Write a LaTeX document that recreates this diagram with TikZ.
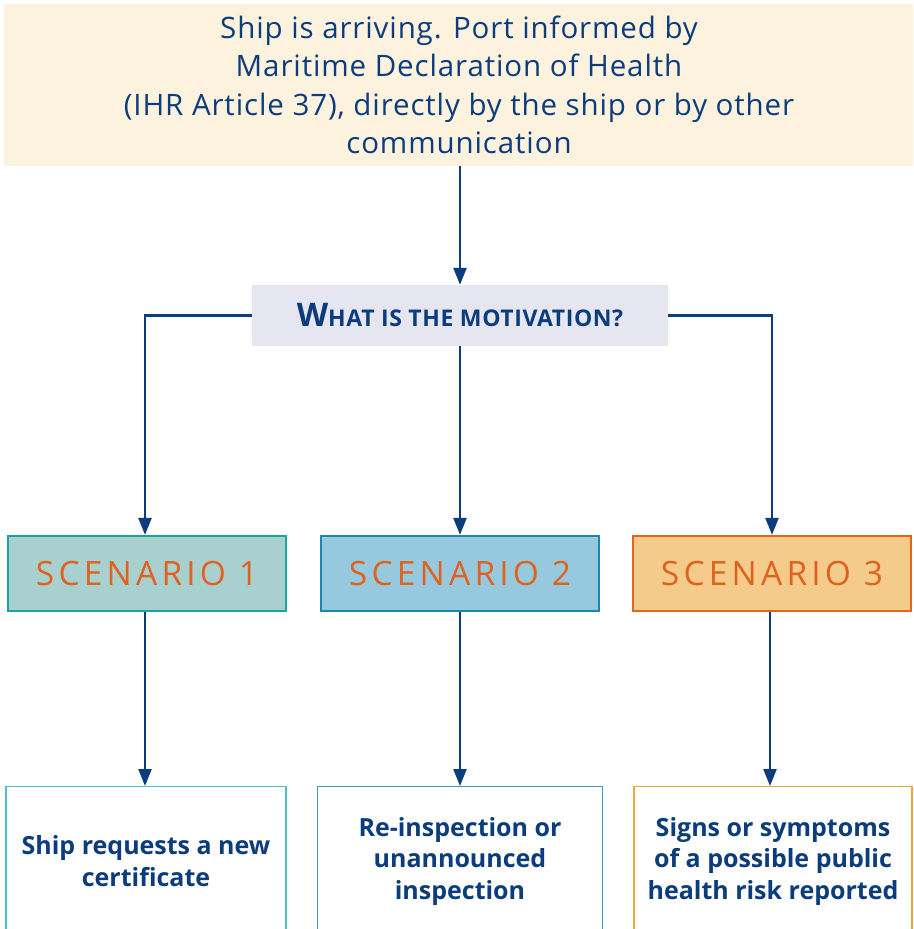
\documentclass[tikz,border=0pt]{standalone}
\usepackage{fontspec}
\setmainfont{Open Sans}
\usetikzlibrary{arrows.meta}
\definecolor{dblue}{HTML}{0B3C7D}
\definecolor{topfill}{HTML}{FCF2DE}
\definecolor{motfill}{HTML}{E6E6F0}
\definecolor{scorange}{HTML}{E0621F}
\definecolor{sAfill}{HTML}{A8D0CE}
\definecolor{sAline}{HTML}{1BA4A2}
\definecolor{sBfill}{HTML}{97C9DE}
\definecolor{sBline}{HTML}{1B86AE}
\definecolor{sCfill}{HTML}{F4CB8B}
\definecolor{sCline}{HTML}{E4661C}
\definecolor{bAline}{HTML}{4FC0C1}
\definecolor{bBline}{HTML}{3C9CC3}
\definecolor{bCline}{HTML}{F0A935}
\tikzset{
  conn/.style={draw=dblue, line width=2.4pt, -{Triangle[length=17pt,width=13pt]}},
  topbox/.style={fill=topfill, inner sep=0pt, minimum width=910pt, minimum height=162pt, align=center, text=dblue, font=\fontsize{29.5}{38.5}\selectfont\addfontfeature{LetterSpace=3}},
  motbox/.style={fill=motfill, inner sep=0pt, minimum width=416pt, minimum height=61pt, text=dblue, font=\bfseries\addfontfeature{LetterSpace=2.5}},
  scbox/.style={line width=2.2pt, inner sep=0pt, minimum width=278pt, minimum height=75pt, text=scorange, font=\fontsize{33.5}{36}\selectfont\addfontfeature{LetterSpace=12.5}},
  outbox/.style={fill=white, line width=1.3pt, inner sep=0pt, minimum width=280pt, minimum height=200pt},
  outtext/.style={text=dblue, align=center, font=\bfseries\fontsize{25}{31.5}\selectfont}
}
\begin{document}
\begin{tikzpicture}[x=1pt, y=-1pt]
\useasboundingbox (0,0) rectangle (913,929);
\clip (0,0) rectangle (913,929);
\fill[white] (0,0) rectangle (913,929);
\node[topbox] (top) at (459,85) {Ship is arriving. Port informed by\\Maritime Declaration of Health\\(IHR Article 37), directly by the ship or by other\\communication};
\node[motbox] (mot) at (460,315.5) {{\fontsize{32.5}{34}\selectfont W}{\fontsize{23}{34}\selectfont HAT IS THE MOTIVATION?}};
\node[scbox, fill=sAfill, draw=sAline] (s1) at (147,573.5) {SCENARIO 1};
\node[scbox, fill=sBfill, draw=sBline] (s2) at (460,573.5) {SCENARIO 2};
\node[scbox, fill=sCfill, draw=sCline] (s3) at (772,573.5) {SCENARIO 3};
\node[outbox, draw=bAline, anchor=north] (b1) at (146,786) {};
\node[outbox, draw=bBline, anchor=north, minimum width=285pt] (b2) at (460,786) {};
\node[outbox, draw=bCline, anchor=north, minimum width=278pt] (b3) at (773,786) {};
\node[outtext] (t1) at (146,861) {Ship requests a new\\certificate};
\node[outtext] (t2) at (460,861) {Re-inspection or\\unannounced\\inspection};
\node[outtext] (t3) at (773,861) {Signs or symptoms\\of a possible public\\health risk reported};
\draw[conn] (top.south -| mot.north) -- (mot.north);
\draw[conn] (mot.west) -| (s1.north -| 145,0);
\draw[conn] (mot.east) -| (s3.north -| 772,0);
\draw[conn] (mot.south) -- (s2.north);
\draw[conn] (s1.south -| 145,0) -- (b1.north -| 145,0);
\draw[conn] (s2.south) -- (b2.north);
\draw[conn] (s3.south -| 770,0) -- (b3.north -| 770,0);
\end{tikzpicture}
\end{document}
